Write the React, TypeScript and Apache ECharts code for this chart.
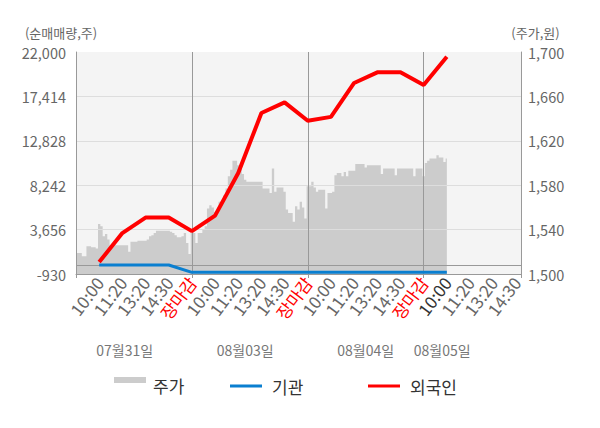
import React, { useEffect, useRef } from 'react';
import * as echarts from 'echarts';

// ---- data ----
const SLOT_LABELS = ['10:00', '11:20', '13:20', '14:30', '장마감'];
const DATES = ['07월31일', '08월03일', '08월04일', '08월05일'];
const LEFT_TICKS = [-930, 3656, 8242, 12828, 17414, 22000];
const RIGHT_TICKS = [1500, 1540, 1580, 1620, 1660, 1700];

// stock price (원), sampled 10 points per time slot, from day-1 open
const PRICE = [
  1519, 1519, 1519, 1516, 1516, 1525, 1525, 1524, 1524, 1523,
  1545, 1543, 1534, 1536, 1531, 1526, 1526, 1526, 1526, 1526,
  1526, 1526, 1526, 1520, 1529, 1529, 1529, 1530, 1530, 1530,
  1530, 1531, 1534, 1535, 1537, 1539, 1539, 1539, 1539, 1539,
  1539, 1538, 1537, 1535, 1533, 1533, 1534, 1537, 1528, 1518,
  1537, 1537, 1528, 1537, 1537, 1540, 1543, 1559, 1562, 1560,
  1556, 1556, 1565, 1565, 1571, 1577, 1588, 1594, 1602, 1602,
  1598, 1597, 1590, 1585, 1583, 1583, 1583, 1583, 1583, 1583,
  1583, 1577, 1577, 1577, 1573, 1595, 1574, 1578, 1578, 1578,
  1574, 1558, 1555, 1555, 1547, 1561, 1558, 1565, 1560, 1550,
  1579, 1579, 1583, 1578, 1574, 1576, 1576, 1576, 1559, 1573,
  1573, 1574, 1589, 1591, 1591, 1588, 1592, 1588, 1593, 1593,
  1593, 1599, 1599, 1599, 1599, 1596, 1598, 1598, 1598, 1598,
  1598, 1598, 1590, 1595, 1595, 1595, 1595, 1595, 1589, 1595,
  1595, 1595, 1595, 1595, 1595, 1595, 1588, 1595, 1595, 1595,
  1588, 1600, 1602, 1604, 1604, 1604, 1607, 1605, 1605, 1601,
  1604,
];

// cumulative net buying (주), one value per labelled time slot
const FOREIGN = [300, 3300, 4900, 4900, 3500, 5100, 9500, 15700, 16800, 14900, 15300, 18800, 19900, 19900, 18600, 21500];
const INSTITUTION = [0, 0, 0, 0, -760, -760, -760, -760, -760, -760, -760, -760, -760, -760, -760, -760];

// ---- layout constants ----
const STEPS = 10; // category points per time slot
const SLOTS_PER_DAY = 5;
const DAY_STEPS = STEPS * SLOTS_PER_DAY;
const TOTAL = 193;
const CURRENT_INDEX = 160;
const DATE_POS = [21, 73, 125, 158];

const FONT = "'Noto Sans CJK KR', 'Noto Sans', sans-serif";
const AXIS_GRAY = '#999999';
const TEXT_GRAY = '#666666';
const LINE_ICON = 'path://M0,7.5H32V10.5H0Z M0,0H0.1V0.1H0Z M0,17.9H0.1V18H0Z';
const RECT_ICON = 'path://M0,1H32V7H0Z M0,17.9H0.1V18H0Z';

const LEFT_OFFSET = -LEFT_TICKS[0];
const LEFT_INTERVAL = LEFT_TICKS[1] - LEFT_TICKS[0];
const RIGHT_BASE = RIGHT_TICKS[0];

const timeCats = Array.from({ length: TOTAL }, (_, i) =>
  i > 0 && i % STEPS === 0 ? SLOT_LABELS[(i / STEPS - 1) % SLOTS_PER_DAY] : ''
);
const dateCats = Array.from({ length: TOTAL }, (_, i) => {
  const d = DATE_POS.indexOf(i);
  return d >= 0 ? DATES[d] : '';
});

const isDayTick = (i: number) => i % DAY_STEPS === 0 || i === TOTAL - 1;
const fmt = (v: number) => Math.round(v).toLocaleString('en-US');

const legendBase = {
  top: 377,
  padding: 0,
  itemWidth: 32,
  itemHeight: 18,
};

const option: any = {
  animation: false,
  textStyle: { fontFamily: FONT },
  grid: {
    left: 76,
    right: 79,
    top: 52,
    bottom: 154,
    show: true,
    backgroundColor: '#f4f4f4',
    borderWidth: 0,
  },
  xAxis: [
    {
      type: 'category',
      data: timeCats,
      boundaryGap: false,
      z: 3,
      axisLine: { show: true, onZero: false, lineStyle: { color: AXIS_GRAY, width: 1 } },
      axisTick: { show: true, length: 4, interval: (i: number) => isDayTick(i), lineStyle: { color: AXIS_GRAY } },
      axisLabel: {
        interval: (_i: number, v: string) => v !== '',
        rotate: 53,
        margin: 5,
        color: TEXT_GRAY,
        fontSize: 17,
        fontFamily: FONT,
        formatter: (v: string, i: number) =>
          v === '장마감' ? `{r|${v}}` : i === CURRENT_INDEX ? `{d|${v}}` : v,
        rich: {
          r: { color: '#ff0000', fontSize: 17, fontFamily: FONT },
          d: { color: '#333333', fontSize: 17, fontFamily: FONT },
        },
      },
      splitLine: {
        show: true,
        interval: (i: number) => i > 0 && i % DAY_STEPS === 0 && i < TOTAL - 1,
        lineStyle: { color: AXIS_GRAY, width: 1 },
      },
    },
    {
      type: 'category',
      data: dateCats,
      boundaryGap: false,
      position: 'bottom',
      offset: 69,
      axisLine: { show: false },
      axisTick: { show: false },
      splitLine: { show: false },
      axisLabel: {
        interval: (_i: number, v: string) => v !== '',
        color: '#777777',
        fontSize: 14,
        fontFamily: FONT,
        margin: 0,
      },
    },
    {
      type: 'category',
      data: timeCats,
      boundaryGap: false,
      position: 'top',
      axisLine: { show: false },
      axisTick: { show: true, length: 7, interval: (i: number) => isDayTick(i), lineStyle: { color: AXIS_GRAY } },
      axisLabel: { show: false },
      splitLine: { show: false },
    },
  ],
  yAxis: [
    {
      type: 'value',
      position: 'left',
      min: 0,
      max: LEFT_TICKS[LEFT_TICKS.length - 1] + LEFT_OFFSET,
      interval: LEFT_INTERVAL,
      z: 3,
      axisLine: { show: true, lineStyle: { color: AXIS_GRAY } },
      axisTick: { show: false },
      axisLabel: { color: TEXT_GRAY, fontSize: 14.5, fontFamily: FONT, margin: 10, formatter: (v: number) => fmt(v - LEFT_OFFSET) },
      splitLine: {
        show: true,
        lineStyle: { color: [AXIS_GRAY, '#dddddd', '#dddddd', '#dddddd', '#dddddd', 'rgba(0,0,0,0)'], width: 1 },
      },
      name: '(순매매량,주)',
      nameLocation: 'end',
      nameGap: 13,
      nameTextStyle: { color: TEXT_GRAY, fontSize: 13, fontFamily: FONT, padding: [0, 30, 0, 0] },
    },
    {
      type: 'value',
      position: 'right',
      min: 0,
      max: RIGHT_TICKS[RIGHT_TICKS.length - 1] - RIGHT_BASE,
      interval: RIGHT_TICKS[1] - RIGHT_TICKS[0],
      z: 3,
      axisLine: { show: true, lineStyle: { color: AXIS_GRAY } },
      axisTick: { show: false },
      axisLabel: { color: TEXT_GRAY, fontSize: 14.5, fontFamily: FONT, margin: 7, formatter: (v: number) => fmt(v + RIGHT_BASE) },
      splitLine: { show: false },
      name: '(주가,원)',
      nameLocation: 'end',
      nameGap: 13,
      nameTextStyle: { color: TEXT_GRAY, fontSize: 13, fontFamily: FONT, padding: [0, 0, 0, 29] },
    },
  ],
  legend: [
    {
      ...legendBase,
      data: [{ name: '주가', icon: RECT_ICON }],
      left: 114,
      textStyle: { color: '#333333', fontSize: 17, fontFamily: FONT, padding: [0, 0, 0, 2] },
    },
    {
      ...legendBase,
      data: [{ name: '기관', icon: LINE_ICON }],
      left: 230,
      textStyle: { color: '#333333', fontSize: 17, fontFamily: FONT, padding: [0, 0, 0, 5] },
    },
    {
      ...legendBase,
      data: [{ name: '외국인', icon: LINE_ICON }],
      left: 368,
      textStyle: { color: '#333333', fontSize: 17, fontFamily: FONT, padding: [0, 0, 0, 5] },
    },
  ],
  series: [
    {
      name: '주가',
      type: 'line',
      xAxisIndex: 0,
      yAxisIndex: 1,
      data: PRICE.map((p) => p - RIGHT_BASE),
      step: 'middle',
      symbol: 'none',
      showSymbol: false,
      lineStyle: { width: 0, color: '#cccccc' },
      itemStyle: { color: '#cccccc' },
      areaStyle: { color: '#cccccc', opacity: 1, origin: 'start' },
      z: 2,
    },
    {
      name: '기관',
      type: 'line',
      xAxisIndex: 0,
      yAxisIndex: 0,
      data: INSTITUTION.map((v, k) => [(k + 1) * STEPS, v + LEFT_OFFSET]),
      symbol: 'none',
      showSymbol: false,
      lineStyle: { color: '#0a7fd0', width: 3 },
      itemStyle: { color: '#0a7fd0' },
      z: 4,
      markLine: {
        silent: true,
        symbol: 'none',
        z: 3,
        label: { show: false },
        lineStyle: { color: AXIS_GRAY, width: 1, type: 'solid' },
        data: [{ yAxis: LEFT_OFFSET }],
      },
    },
    {
      name: '외국인',
      type: 'line',
      xAxisIndex: 0,
      yAxisIndex: 0,
      data: FOREIGN.map((v, k) => [(k + 1) * STEPS, v + LEFT_OFFSET]),
      symbol: 'none',
      showSymbol: false,
      lineStyle: { color: '#ff0000', width: 4 },
      itemStyle: { color: '#ff0000' },
      z: 5,
    },
  ],
};

export default function App() {
  const ref = useRef<HTMLDivElement>(null);
  useEffect(() => {
    document.body.style.margin = '0';
    const chart = echarts.init(ref.current!, undefined, { renderer: 'svg' });
    chart.setOption(option);
    return () => chart.dispose();
  }, []);
  return <div ref={ref} style={{ width: 600, height: 428 }} />;
}
